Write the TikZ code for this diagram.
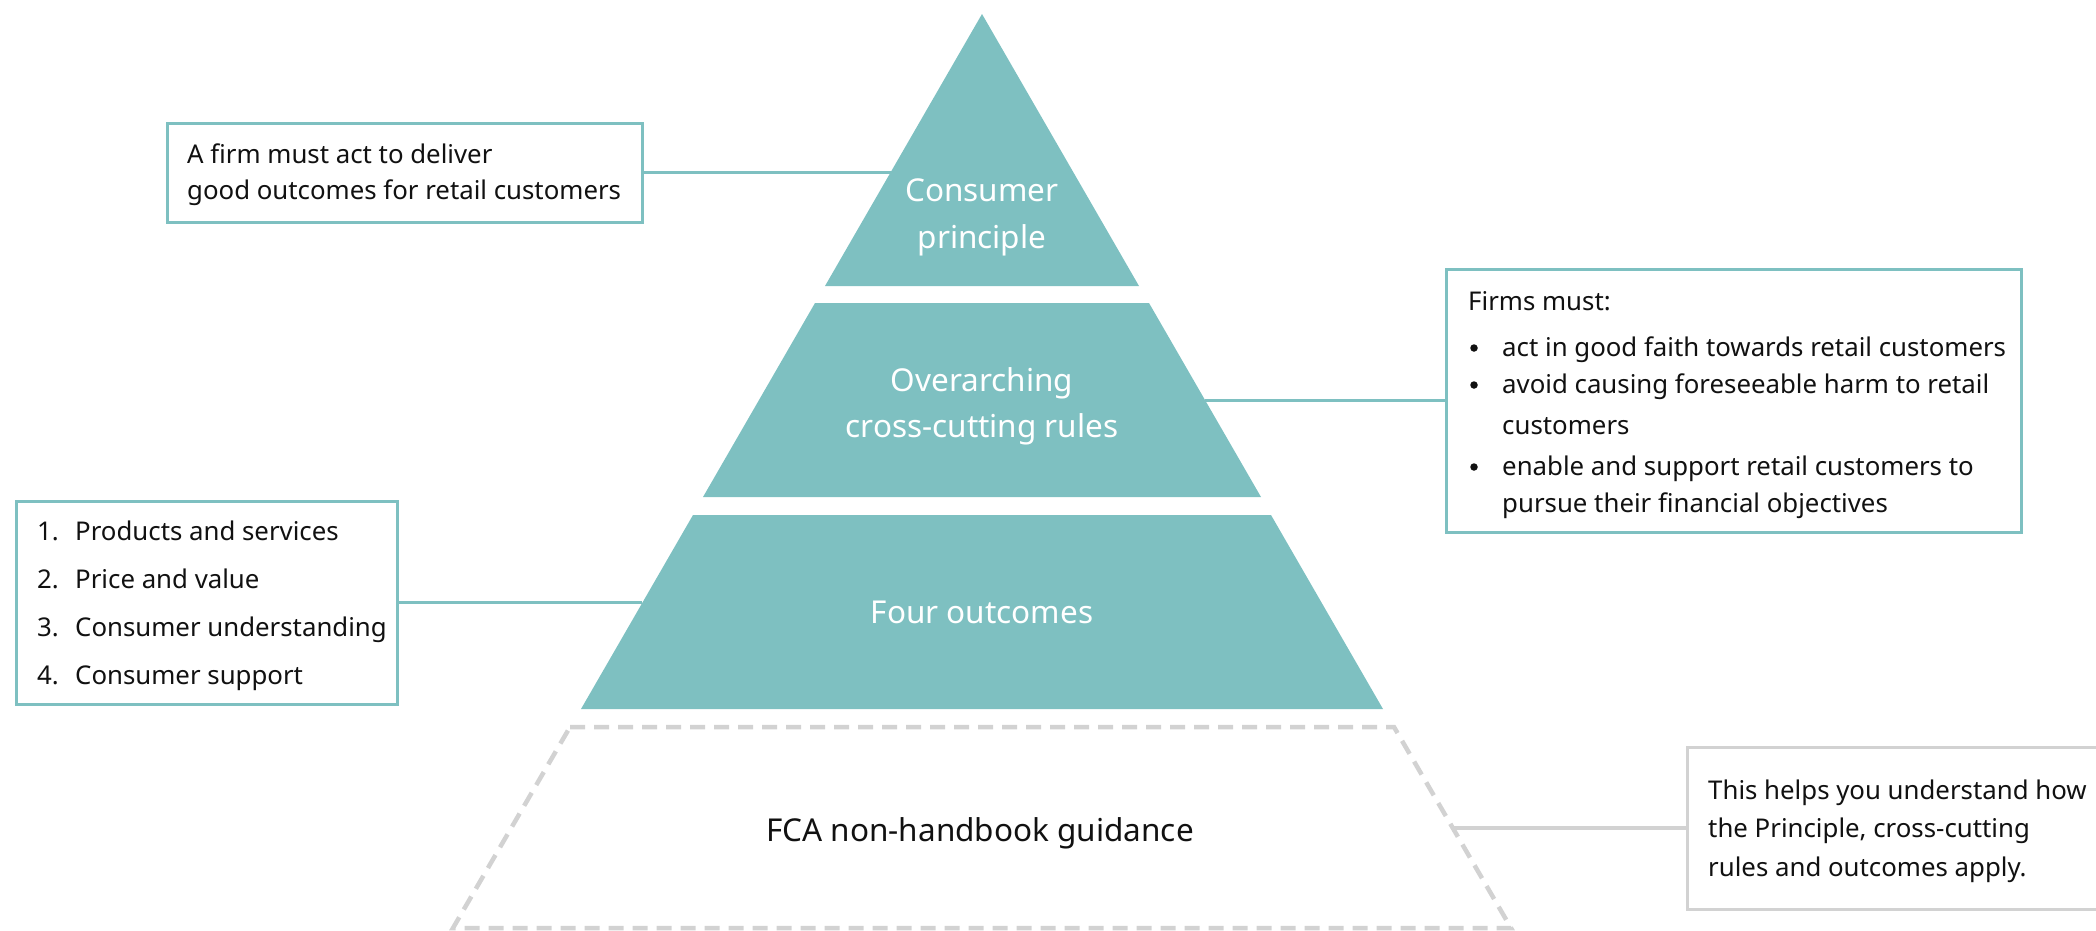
\documentclass[tikz,border=0pt]{standalone}
\usepackage{fontspec}
\setmainfont{Noto Sans}
\definecolor{fcateal}{HTML}{7EC0C1}
\definecolor{guidegray}{HTML}{D2D2D2}
\definecolor{ink}{HTML}{111111}
\tikzset{
  tier/.style={fill=fcateal, draw=none},
  guidetier/.style={draw=guidegray, line width=4.5pt, dash pattern=on 15pt off 9pt},
  tierlabel/.style={anchor=base, text=white, inner sep=0pt, font=\fontsize{31.5}{36}\selectfont},
  guidelabel/.style={anchor=base, text=ink, inner sep=0pt, font=\fontsize{31.5}{36}\selectfont},
  infobox/.style={draw=fcateal, line width=3pt, fill=white, inner sep=0pt},
  greybox/.style={draw=guidegray, line width=3pt, fill=white, inner sep=0pt},
  boxtext/.style={anchor=base west, text=ink, inner sep=0pt, font=\fontsize{25.8}{30}\selectfont},
  bulletdot/.style={circle, fill=ink, inner sep=0pt, minimum size=7.5pt},
  link/.style={draw=fcateal, line width=3pt},
  greylink/.style={draw=guidegray, line width=3.2pt},
}
\begin{document}
\begin{tikzpicture}[x=1pt,y=-1pt]
\useasboundingbox (0,0) rectangle (2096,930);
\clip (0,0) rectangle (2096,930);

% pyramid tiers (all on the same 60-degree outline)
\fill[tier] (982,14) -- (1139,286) -- (825,286) -- cycle;
\fill[tier] (815,303) -- (1149,303) -- (1261,497) -- (703,497) -- cycle;
\fill[tier] (693,515) -- (1271,515) -- (1383,709) -- (581,709) -- cycle;
\draw[guidetier] (570,727) -- (1394,727) -- (1511,928) -- (453,928) -- cycle;

\node[tierlabel] (cp1) at (982,201) {Consumer};
\node[tierlabel] (cp2) at (982,248) {principle};
\node[tierlabel] (or1) at (982,391) {Overarching};
\node[tierlabel] (or2) at (982,437) {cross-cutting rules};
\node[tierlabel] (fo) at (982,623) {Four outcomes};
\node[guidelabel] (fca) at (980,841) {FCA non-handbook guidance};

% edge points where the connectors meet the tiers
\coordinate (e1) at (891,172.5);
\coordinate (e2) at (1205,400.5);
\coordinate (e3) at (642,602.5);
\coordinate (e4) at (1452,828);

% consumer principle box
\node[infobox, minimum width=475pt, minimum height=99pt] (b1) at (404.5,172.5) {};
\draw[link] (b1.east) -- (e1);
\node[boxtext] (b1a) at (187,163) {A firm must act to deliver};
\node[boxtext] (b1b) at (187,199) {good outcomes for retail customers};

% cross-cutting rules box
\node[infobox, minimum width=575pt, minimum height=263pt] (b2) at (1733.5,400.5) {};
\draw[link] (e2) -- (b2.west);
\node[boxtext] (b2h) at (1468,310) {Firms must:};
\node[bulletdot] (b2d1) at (1474,348) {};
\node[boxtext] (b2i1) at (1502,356) {act in good faith towards retail customers};
\node[bulletdot] (b2d2) at (1474,385) {};
\node[boxtext] (b2i2) at (1502,393) {avoid causing foreseeable harm to retail};
\node[boxtext] (b2i2b) at (1502,434) {customers};
\node[bulletdot] (b2d3) at (1474,467) {};
\node[boxtext] (b2i3) at (1502,475) {enable and support retail customers to};
\node[boxtext] (b2i3b) at (1502,512) {pursue their financial objectives};

% four outcomes box
\node[infobox, minimum width=381pt, minimum height=203pt] (b3) at (206.5,602.5) {};
\draw[link] (b3.east) -- (e3);
\node[boxtext] (n1) at (37,540) {1.};
\node[boxtext] (o1) at (75,540) {Products and services};
\node[boxtext] (n2) at (37,588) {2.};
\node[boxtext] (o2) at (75,588) {Price and value};
\node[boxtext] (n3) at (37,636) {3.};
\node[boxtext] (o3) at (75,636) {Consumer understanding};
\node[boxtext] (n4) at (37,684) {4.};
\node[boxtext] (o4) at (75,684) {Consumer support};

% guidance box (runs off the right edge)
\node[greybox, minimum width=433pt, minimum height=162pt] (b4) at (1903.5,828) {};
\draw[greylink] (e4) -- (b4.west);
\node[boxtext] (g1) at (1708,799) {This helps you understand how};
\node[boxtext] (g2) at (1708,837) {the Principle, cross-cutting};
\node[boxtext] (g3) at (1708,876) {rules and outcomes apply.};
\end{tikzpicture}
\end{document}
